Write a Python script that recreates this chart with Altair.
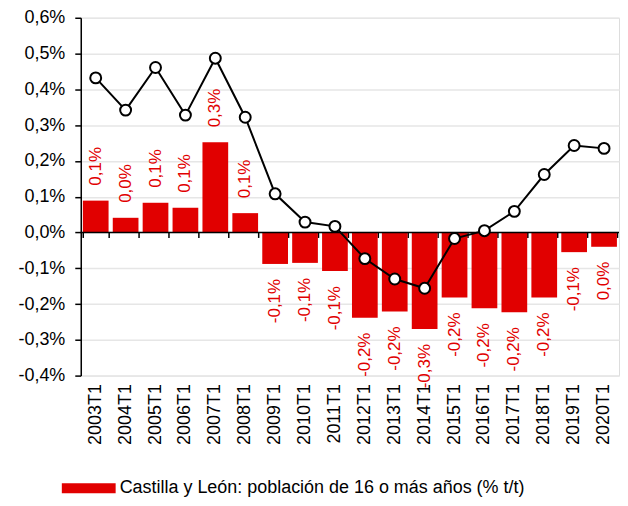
import altair as alt
import pandas as pd

periodos = ["2003T1", "2004T1", "2005T1", "2006T1", "2007T1", "2008T1", "2009T1",
            "2010T1", "2011T1", "2012T1", "2013T1", "2014T1", "2015T1", "2016T1",
            "2017T1", "2018T1", "2019T1", "2020T1"]
# valores en %
barras = [0.089, 0.041, 0.083, 0.069, 0.252, 0.054, -0.088, -0.085, -0.108,
          -0.238, -0.221, -0.270, -0.182, -0.212, -0.223, -0.182, -0.055, -0.040]
linea = [0.432, 0.342, 0.461, 0.328, 0.487, 0.322, 0.108, 0.029, 0.017,
         -0.073, -0.130, -0.156, -0.017, 0.005, 0.059, 0.162, 0.243, 0.235]
serie = "Castilla y León: población de 16 o más años (% t/t)"
y_ticks = [-0.4, -0.3, -0.2, -0.1, 0.0, 0.1, 0.2, 0.3, 0.4, 0.5, 0.6]

RED = "#E10000"
FONT = "Liberation Sans"
W = 540
H = 359

df = pd.DataFrame({
    "periodo": periodos,
    "barra": [v / 100 for v in barras],
    "linea": [v / 100 for v in linea],
    "serie": [serie] * len(periodos),
})

xscale = alt.Scale(paddingInner=0.14, paddingOuter=0.07)
yscale = alt.Scale(domain=[-0.004, 0.006], nice=False, zero=False)
yaxis = alt.Axis(values=[v / 100 for v in y_ticks], format=".1%",
                 labelFontSize=18, labelFont=FONT, labelColor="black",
                 labelPadding=10, tickSize=6, tickColor="black", tickWidth=1.5,
                 domainColor="black", domainWidth=1.5,
                 grid=True, gridColor="#e6e6e6", gridWidth=1.5)

base = alt.Chart(df)

bars = base.mark_bar().encode(
    x=alt.X("periodo:N", sort=periodos, scale=xscale, title=None,
            axis=alt.Axis(orient="bottom", labelAngle=270, labelFontSize=18, labelFont=FONT,
                          labelColor="black", labelPadding=8, ticks=False, domain=False,
                          grid=False)),
    y=alt.Y("barra:Q", scale=yscale, title=None, axis=yaxis),
    color=alt.Color("serie:N", scale=alt.Scale(domain=[serie], range=[RED]),
                    legend=alt.Legend(title=None, orient="none", legendX=-2, legendY=462,
                                      symbolType="M-2.7,-0.5H2.7V0.5H-2.7Z",
                                      symbolSize=400, symbolStrokeWidth=0,
                                      labelOffset=21,
                                      labelFontSize=18, labelFont=FONT,
                                      labelColor="black", labelLimit=600)),
)

pos_labels = base.transform_filter("datum.barra >= 0").mark_text(
    angle=270, align="left", baseline="middle", dx=15, fontSize=17, font=FONT, color=RED
).encode(
    x=alt.X("periodo:N", sort=periodos, scale=xscale, axis=None),
    y=alt.Y("barra:Q", scale=yscale, title=None, axis=yaxis),
    text=alt.Text("barra:Q", format=".1%"),
)

neg_labels = base.transform_filter("datum.barra < 0").mark_text(
    angle=270, align="right", baseline="middle", dx=-15, fontSize=17, font=FONT, color=RED
).encode(
    x=alt.X("periodo:N", sort=periodos, scale=xscale, axis=None),
    y=alt.Y("barra:Q", scale=yscale, title=None, axis=yaxis),
    text=alt.Text("barra:Q", format=".1%"),
)

zero_rule = alt.Chart(pd.DataFrame({"cero": [0.0]})).mark_rule(
    color="black", strokeWidth=1.5
).encode(y=alt.Y("cero:Q", scale=yscale, title=None, axis=yaxis))

line = base.mark_line(color="black", strokeWidth=2).encode(
    x=alt.X("periodo:N", sort=periodos, scale=xscale, title=None,
            axis=alt.Axis(orient="bottom", offset=-0.4 * H, labels=False, domain=False,
                          ticks=True, tickBand="extent", tickSize=5, tickColor="black",
                          tickWidth=1.5, grid=False)),
    y=alt.Y("linea:Q", scale=yscale, title=None, axis=yaxis),
)

points = base.mark_point(filled=True, fill="white", stroke="black", strokeWidth=2,
                         size=120, opacity=1).encode(
    x=alt.X("periodo:N", sort=periodos, scale=xscale, axis=None),
    y=alt.Y("linea:Q", scale=yscale, title=None, axis=yaxis),
)

chart = alt.layer(bars, pos_labels, neg_labels, zero_rule, line, points).resolve_axis(
    x="independent"
).properties(
    width=W, height=H, padding={"left": 9, "top": 0, "right": 0, "bottom": 0}
).configure_view(stroke=None).configure(
    locale={"number": {"decimal": ",", "thousands": ".", "grouping": [3],
                       "currency": ["", " €"], "minus": "-"}}
)

chart.save("out.html", embed_options={"renderer": "svg", "actions": False})
